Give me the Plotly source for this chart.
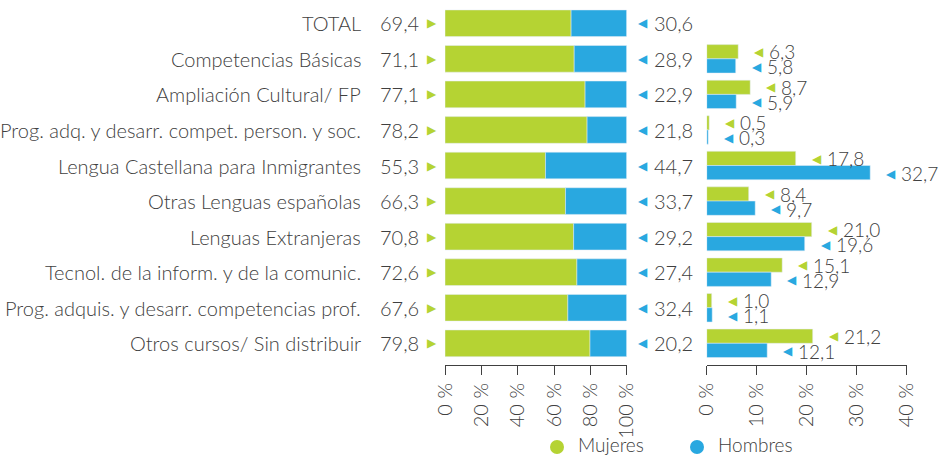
import plotly.graph_objects as go

# Course categories (top to bottom)
categorias = [
    "TOTAL",
    "Competencias Básicas",
    "Ampliación Cultural/ FP",
    "Prog. adq. y desarr. compet. person. y soc.",
    "Lengua Castellana para Inmigrantes",
    "Otras Lenguas españolas",
    "Lenguas Extranjeras",
    "Tecnol. de la inform. y de la comunic.",
    "Prog. adquis. y desarr. competencias prof.",
    "Otros cursos/ Sin distribuir",
]

# Share of participants by sex within each category (%)
mujeres_pct = [69.4, 71.1, 77.1, 78.2, 55.3, 66.3, 70.8, 72.6, 67.6, 79.8]
hombres_pct = [30.6, 28.9, 22.9, 21.8, 44.7, 33.7, 29.2, 27.4, 32.4, 20.2]

# Distribution of each sex across categories (%), TOTAL excluded
categorias_dist = categorias[1:]
mujeres_dist = [6.3, 8.7, 0.5, 17.8, 8.4, 21.0, 15.1, 1.0, 21.2]
hombres_dist = [5.8, 5.9, 0.3, 32.7, 9.7, 19.6, 12.9, 1.1, 12.1]

ticks_pct = [0, 20, 40, 60, 80, 100]
ticks_dist = [0, 10, 20, 30, 40]

series = ["Mujeres", "Hombres"]

VERDE = "#B5D333"
AZUL = "#29A8E0"
TEXTO = "#404040"
FUENTE = "Lato"
W, H = 939, 457


def fmt(v):
    return f"{v:.1f}".replace(".", ",")


fig = go.Figure()

# Left panel: 100% stacked bars
fig.add_trace(go.Bar(
    y=categorias, x=mujeres_pct, orientation="h", marker_color=VERDE,
    width=0.75, xaxis="x", yaxis="y", name=series[0], hoverinfo="skip",
))
fig.add_trace(go.Bar(
    y=categorias, x=hombres_pct, base=mujeres_pct, orientation="h",
    marker_color=AZUL, width=0.75, xaxis="x", yaxis="y", name=series[1],
    hoverinfo="skip",
))

# Right panel: paired bars per category
fig.add_trace(go.Bar(
    y=categorias_dist, x=mujeres_dist, orientation="h", marker_color=VERDE,
    width=0.4, offset=-0.4, xaxis="x2", yaxis="y2", name=series[0],
    hoverinfo="skip",
))
fig.add_trace(go.Bar(
    y=categorias_dist, x=hombres_dist, orientation="h", marker_color=AZUL,
    width=0.4, offset=0.0, xaxis="x2", yaxis="y2", name=series[1],
    hoverinfo="skip",
))

ann = []
shapes = []
tri_font = dict(family="DejaVu Sans", size=12)
lab_font = dict(family=FUENTE, size=20, color=TEXTO, weight=300)
num_font = dict(family=FUENTE, size=19, color=TEXTO, weight=300)

for cat, m, h in zip(categorias, mujeres_pct, hombres_pct):
    # category name
    ann.append(dict(x=363 / W, xref="paper", y=cat, yref="y", text=cat,
                    xanchor="right", showarrow=False, font=lab_font))
    # women value, left of the bar
    ann.append(dict(x=0, xref="x", y=cat, yref="y", text=fmt(m),
                    xanchor="right", xshift=-24, showarrow=False, font=lab_font))
    ann.append(dict(x=0, xref="x", y=cat, yref="y", text="▶",
                    xanchor="center", xshift=-13, showarrow=False,
                    font=dict(tri_font, color=VERDE)))
    # men value, right of the bar
    ann.append(dict(x=100, xref="x", y=cat, yref="y", text="◀",
                    xanchor="center", xshift=16, showarrow=False,
                    font=dict(tri_font, color=AZUL)))
    ann.append(dict(x=100, xref="x", y=cat, yref="y", text=fmt(h),
                    xanchor="left", xshift=25, showarrow=False, font=lab_font))

for cat, m, h in zip(categorias_dist, mujeres_dist, hombres_dist):
    for v, color, dy in [(m, VERDE, 7), (h, AZUL, -8)]:
        ann.append(dict(x=v, xref="x2", y=cat, yref="y2", text="◀",
                        xanchor="center", xshift=21, yshift=dy, showarrow=False,
                        font=dict(tri_font, color=color)))
        ann.append(dict(x=v, xref="x2", y=cat, yref="y2", text=fmt(v),
                        xanchor="left", xshift=29, yshift=dy, showarrow=False,
                        font=num_font))

# Legend: round swatch + label for each series
for nombre, color, cx in [(series[0], VERDE, 557), (series[1], AZUL, 697)]:
    r = 7
    cy = 447
    shapes.append(dict(type="circle", xref="paper", yref="paper",
                       x0=(cx - r) / W, x1=(cx + r) / W,
                       y0=(H - cy - r) / H, y1=(H - cy + r) / H,
                       fillcolor=color, line=dict(width=0)))
    ann.append(dict(x=(cx + 20) / W, xref="paper", y=0, yref="paper",
                    text=nombre, xanchor="left", yanchor="bottom",
                    borderpad=0, showarrow=False,
                    font=dict(lab_font, size=19)))

y_rng = [9.61, -0.5]
y_dom = [(H - 365) / H, (H - 5.5) / H]

axis_common = dict(
    showline=True, linecolor=TEXTO, linewidth=1, ticks="outside", ticklen=9,
    tickcolor=TEXTO, tickangle=-90, showgrid=False, zeroline=False,
    tickfont=dict(family=FUENTE, size=20, color=TEXTO, weight=300),
    fixedrange=True,
)

fig.update_layout(
    width=W, height=H,
    margin=dict(l=0, r=0, t=0, b=0, autoexpand=False),
    paper_bgcolor="white", plot_bgcolor="white",
    barmode="overlay",
    showlegend=False,
    xaxis=dict(axis_common, domain=[445 / W, 626.7 / W], range=[0, 100],
               tickvals=ticks_pct, ticktext=[f"{t} %" for t in ticks_pct],
               anchor="y"),
    yaxis=dict(domain=y_dom, type="category", categoryorder="array",
               categoryarray=categorias, range=y_rng, visible=False,
               anchor="x"),
    xaxis2=dict(axis_common, domain=[706.7 / W, 906.7 / W], range=[0, 40],
                tickvals=ticks_dist, ticktext=[f"{t} %" for t in ticks_dist],
                anchor="y2"),
    yaxis2=dict(domain=y_dom, type="category", categoryorder="array",
                categoryarray=categorias, range=y_rng, visible=False,
                anchor="x2"),
    annotations=ann,
    shapes=shapes,
)

fig.write_html("out.html")
